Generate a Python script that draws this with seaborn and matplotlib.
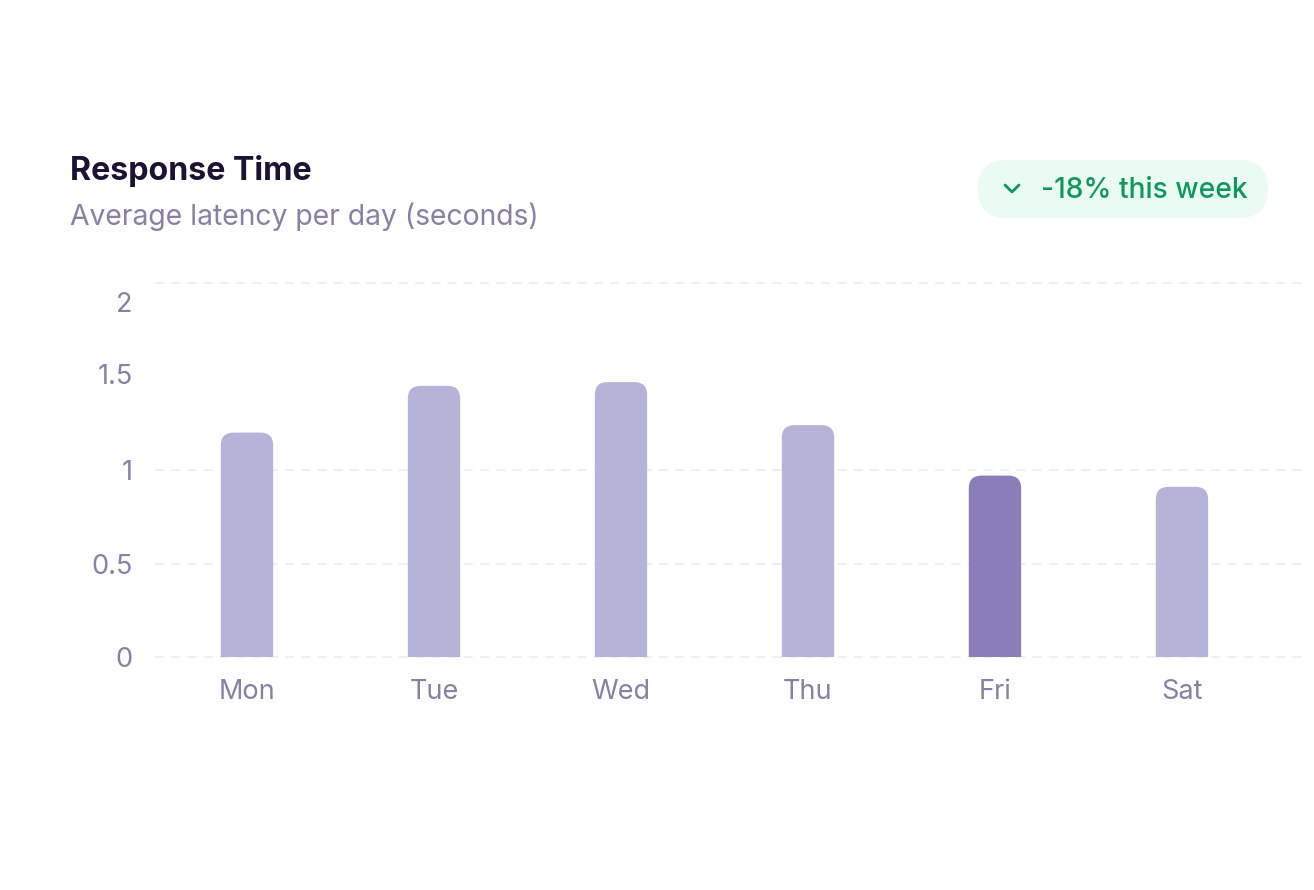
import seaborn as sns
import matplotlib.pyplot as plt
from matplotlib.patches import FancyBboxPatch
from matplotlib.lines import Line2D
from matplotlib.transforms import ScaledTranslation

''' Data '''
days = ["Mon", "Tue", "Wed", "Thu", "Fri", "Sat"]
latency = [1.20, 1.45, 1.47, 1.24, 0.97, 0.91]
highlight = "Fri"
y_ticks = [0, 0.5, 1, 1.5, 2]
y_labels = ["0", "0.5", "1", "1.5", "2"]
grid_levels = [0, 0.5, 1, 2]

BAR = "#b5b3d8"
BAR_HI = "#8a7db8"
MUTED = "#8a80a3"
DARK = "#1c1233"
GREEN = "#10975f"

sns.set_theme(style="white")
plt.rcParams['font.family'] = ['Inter', 'DejaVu Sans']

W, H = 1314, 890
fig = plt.figure(figsize=(W / 100, H / 100), dpi=100)
fig.patch.set_facecolor("white")

def fx(px): return px / W
def fy(py): return 1 - py / H

ax = fig.add_axes([fx(155), fy(657), fx(1308) - fx(155), fy(283) - fy(657)])

palette = [BAR_HI if d == highlight else BAR for d in days]
sns.barplot(x=days, y=latency, hue=days, palette=palette, width=0.28,
            legend=False, ax=ax, saturation=1)

ax.set_xlim(-0.492, 5.674)
ax.set_ylim(0, 2)

''' Rounded tops '''
for p in list(ax.patches):
    x0, w, h = p.get_x(), p.get_width(), p.get_height()
    col = p.get_facecolor()
    p.set_visible(False)
    rb = FancyBboxPatch((x0, -0.2), w, h + 0.2,
                        boxstyle="round,pad=0,rounding_size=0.068",
                        mutation_aspect=1.0, facecolor=col, edgecolor="none",
                        zorder=3)
    ax.add_patch(rb)

for lv in grid_levels:
    ax.axhline(lv, color="#eeedf4", lw=1.3, dashes=(5, 4), zorder=1, clip_on=False)

for s in ax.spines.values():
    s.set_visible(False)

ax.set_yticks(y_ticks)
ax.set_yticklabels(y_labels)
ax.tick_params(axis="y", length=0, pad=16, labelsize=19.5, labelcolor=MUTED)
ax.tick_params(axis="x", length=0, pad=16, labelsize=19.5, labelcolor=MUTED)
ax.set_xlabel("")
ax.set_ylabel("")

# the top labels sit a little off their lines
for lbl in ax.get_yticklabels():
    if lbl.get_text() == "2":
        lbl.set_transform(lbl.get_transform() + ScaledTranslation(0, -0.19, fig.dpi_scale_trans))
    if lbl.get_text() == "1.5":
        lbl.set_transform(lbl.get_transform() + ScaledTranslation(0, 0.03, fig.dpi_scale_trans))

''' Header '''
fig.text(fx(70), fy(171), "Response Time", fontsize=23.2, fontweight="bold",
         color=DARK, va="center", ha="left")
fig.text(fx(70), fy(217), "Average latency per day (seconds)", fontsize=20.4,
         color=MUTED, va="center", ha="left")

''' Badge '''
badge = FancyBboxPatch((fx(978), fy(218)), fx(1268) - fx(978), fy(160) - fy(218),
                       boxstyle="round,pad=0,rounding_size=0.022",
                       mutation_aspect=W / H, transform=fig.transFigure,
                       facecolor="#eafbf1", edgecolor="none")
fig.patches.append(badge)
fig.add_artist(Line2D([fx(1005), fx(1012), fx(1019)], [fy(185), fy(192), fy(185)],
                      transform=fig.transFigure, color=GREEN, lw=2,
                      solid_capstyle="round", solid_joinstyle="round"))
fig.text(fx(1041), fy(190), "-18% this week", fontsize=20.3, fontweight="medium",
         color=GREEN, va="center", ha="left")

fig.savefig("out.png", dpi=100)
